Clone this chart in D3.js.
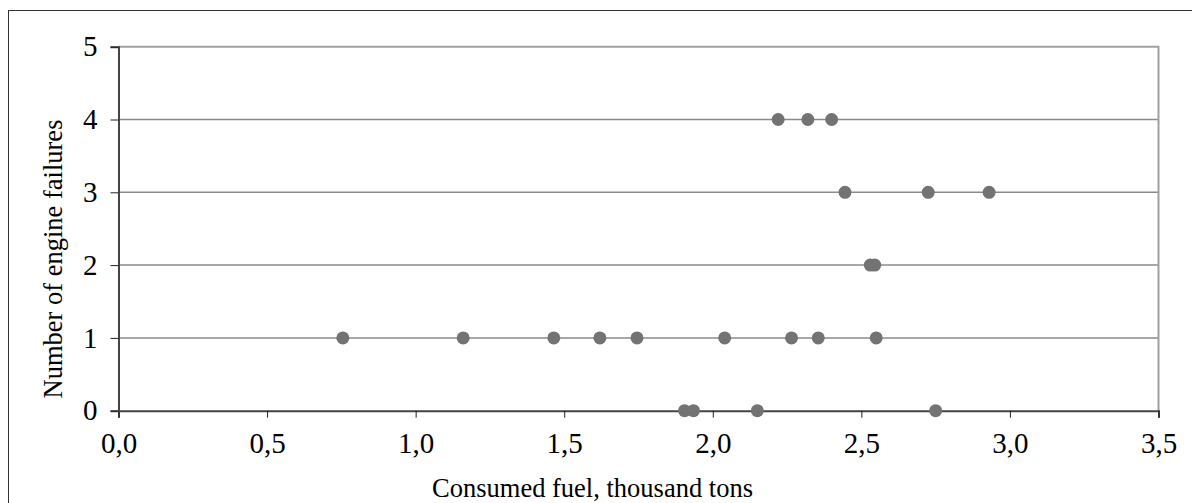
<!DOCTYPE html>
<html><head><meta charset="utf-8">
<script src="https://cdn.jsdelivr.net/npm/d3@7"></script>
<style>html,body{margin:0;padding:0;background:#fff;}svg{display:block;}</style>
</head><body>
<svg id="chart" width="1192" height="503"></svg>
<script>
const fuel = [2.22, 2.32, 2.40, 2.445, 2.725, 2.93, 2.53, 2.545, 0.755, 1.16, 1.465, 1.62, 1.745, 2.04, 2.265, 2.355, 2.55, 1.905, 1.935, 2.15, 2.75];
const failures = [4, 4, 4, 3, 3, 3, 2, 2, 1, 1, 1, 1, 1, 1, 1, 1, 1, 0, 0, 0, 0];
const xTicks = [0, 0.5, 1.0, 1.5, 2.0, 2.5, 3.0, 3.5];
const yTicks = [0, 1, 2, 3, 4, 5];
const xTitle = "Consumed fuel, thousand tons";
const yTitle = "Number of engine failures";

const svg = d3.select("#chart");
const mLeft = 118.5, mRight = 1158.5, mTop = 46.7, mBottom = 410.7;
const x = d3.scaleLinear().domain([0, 3.5]).range([mLeft, mRight]);
const y = d3.scaleLinear().domain([0, 5]).range([mBottom, mTop]);
const loc = d3.formatLocale({decimal: ",", thousands: " ", grouping: [3], currency: ["", ""]});
const fx = loc.format(".1f");
const font = "'Liberation Serif','Times New Roman',serif";
const tickFont = 29, titleFont = 26.5;

// outer frame
svg.append("rect").attr("x", 8.5).attr("y", 10.5).attr("width", 1200).attr("height", 600)
  .attr("fill", "none").attr("stroke", "#333").attr("stroke-width", 1);

// gridlines
svg.append("g").selectAll("line").data(yTicks.filter(d => d > 0 && d < 5)).join("line")
  .attr("x1", mLeft).attr("x2", mRight).attr("y1", d => y(d)).attr("y2", d => y(d))
  .attr("stroke", "#8a8a8a").attr("stroke-width", 1.5);

// plot border top/right
svg.append("path").attr("d", `M${mLeft},${mTop}H${mRight}V${mBottom}`)
  .attr("fill", "none").attr("stroke", "#a0a0a0").attr("stroke-width", 2);

// axes
const xAxis = d3.axisBottom(x).tickValues(xTicks).tickFormat(fx).tickSize(7).tickPadding(14.5);
const gx = svg.append("g").attr("transform", `translate(0,${mBottom})`).call(xAxis);
gx.select(".domain").attr("stroke", "#444").attr("stroke-width", 2);
gx.selectAll(".tick line").attr("stroke", "#222").attr("stroke-width", 1);
gx.selectAll("text").attr("font-family", font).attr("font-size", tickFont).attr("fill", "#000");

const yAxis = d3.axisLeft(y).tickValues(yTicks).tickFormat(d3.format("d")).tickSize(8).tickPadding(13);
const gy = svg.append("g").attr("transform", `translate(${mLeft},0)`).call(yAxis);
gy.select(".domain").attr("stroke", "#444").attr("stroke-width", 2);
gy.selectAll(".tick line").attr("stroke", "#222").attr("stroke-width", 1);
gy.selectAll("text").attr("font-family", font).attr("font-size", tickFont).attr("fill", "#000");

// titles
svg.append("text").attr("x", 592.5).attr("y", 497).attr("text-anchor", "middle")
  .attr("font-family", font).attr("font-size", titleFont).attr("fill", "#000").text(xTitle);
svg.append("text").attr("transform", `translate(62,259) rotate(-90)`).attr("text-anchor", "middle")
  .attr("font-family", font).attr("font-size", titleFont).attr("fill", "#000").text(yTitle);

// points
svg.append("g").selectAll("circle").data(fuel.map((f, i) => [f, failures[i]])).join("circle")
  .attr("cx", d => x(d[0])).attr("cy", d => y(d[1])).attr("r", 6.5).attr("fill", "#737373");
</script>
</body></html>
